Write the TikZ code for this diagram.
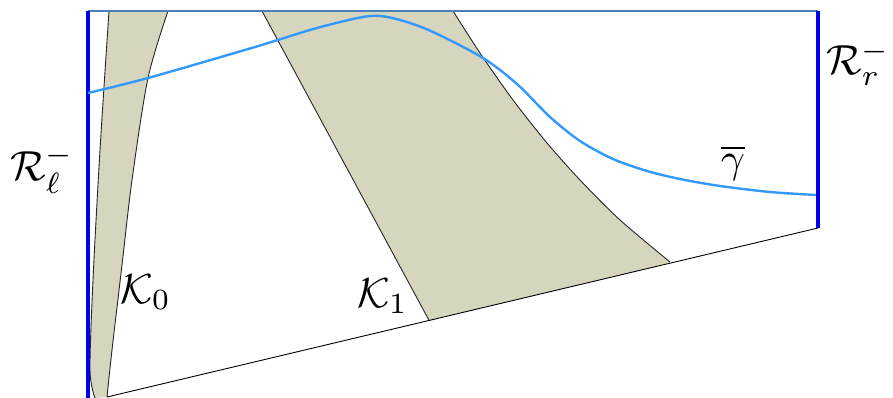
\documentclass[tikz,border=0pt]{standalone}
\usepackage{amsmath}
\usetikzlibrary{calc}

\definecolor{kkhaki}{RGB}{214,214,191}
\definecolor{barblue}{RGB}{0,0,235}
\definecolor{gamblue}{RGB}{51,153,255}
\definecolor{topblue}{RGB}{74,128,182}

\newcommand{\biglab}[1]{\scalebox{4.2}{$#1$}}

\tikzset{
  kregion/.style={fill=kkhaki},
  kedge/.style={line width=0.9pt, black!85},
  barline/.style={line width=4.5pt, barblue},
  gamline/.style={line width=2.4pt, gamblue},
  topline/.style={line width=1.4pt, topblue},
  lab/.style={inner sep=0pt},
}

\begin{document}
\begin{tikzpicture}[x=1pt, y=-1pt]
\useasboundingbox (0,0) rectangle (893,398);

% ── Corner points ──
\coordinate (tl) at (88,11);
\coordinate (tr) at (818,11);
\coordinate (bl) at (88,398);
\coordinate (br) at (818,228);
\coordinate (b0) at (107,397);
\coordinate (k1a) at ($(b0)!0.453!(br)$);
\coordinate (k1b) at ($(b0)!0.792!(br)$);

% ── K_0 strip ──
\fill[kregion] plot[smooth] coordinates {(109,11) (100,150) (93,280) (90,370) (95,398)}
  -- (b0) -- plot[smooth] coordinates {(107,397) (112,350) (122,265) (132,180) (148,78) (168,11)} -- cycle;
\draw[kedge] plot[smooth] coordinates {(109,11) (100,150) (93,280) (90,370) (95,398)};
\draw[kedge] plot[smooth] coordinates {(107,397) (112,350) (122,265) (132,180) (148,78) (168,11)};

% ── K_1 strip ──
\fill[kregion] (262,11) -- (k1a) -- (k1b)
  -- plot[smooth] coordinates {(670,262) (620,220) (580,180) (547,143) (513,100) (480,53) (453,11)} -- cycle;
\draw[kedge] (262,11) -- (k1a);
\draw[kedge] plot[smooth] coordinates {(670,262) (620,220) (580,180) (547,143) (513,100) (480,53) (453,11)};

% ── Boundary ──
\draw[line width=0.9pt] (b0) -- (br);
\draw[topline] (tl) -- (tr);
\draw[barline] (tl) -- (bl);
\draw[barline] (tr) -- (br);

% ── gamma bar ──
\draw[gamline] plot[smooth] coordinates {(88,93) (148,78) (255,47) (317,28) (370,16) (400,20) (433,32) (483,58)
  (517,84) (550,117) (580,141) (613,159) (647,171) (680,179) (720,186) (770,192) (816,195)};

% ── Labels ──
\node[lab, anchor=base west] (Rl) at (10,181) {\biglab{\mathcal{R}_\ell^-}};
\node[lab, anchor=base west] (Rr) at (826,75) {\biglab{\mathcal{R}_r^-}};
\node[lab, anchor=base west] (K0) at (120,303) {\biglab{\mathcal{K}_0}};
\node[lab, anchor=base west] (K1) at (357,307) {\biglab{\mathcal{K}_1}};
\node[lab, anchor=base] (gam) at (733,172) {\biglab{\overline{\gamma}}};

\end{tikzpicture}
\end{document}
